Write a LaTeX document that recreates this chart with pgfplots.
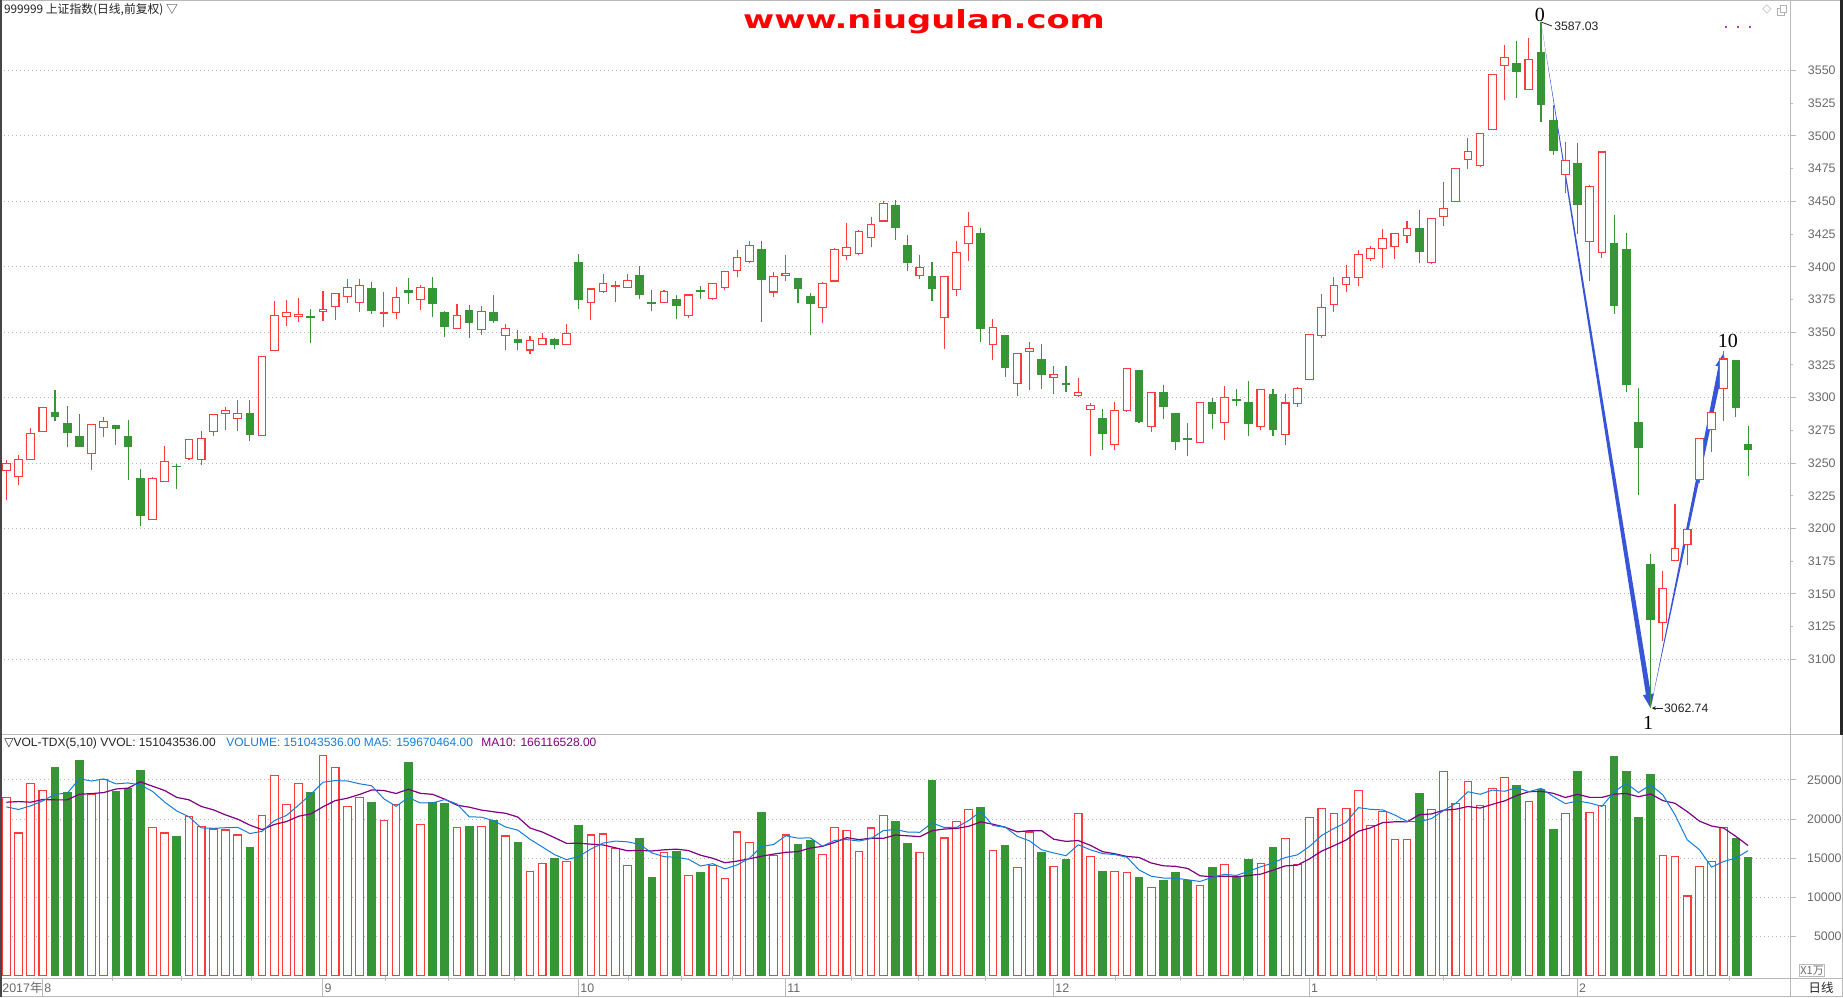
\documentclass[border=0pt]{standalone}
\usepackage{pgfplots}
\pgfplotsset{compat=1.18}
\usepackage{pgfplotstable}
\usepackage{graphicx}
\usepackage{fontspec}
\usetikzlibrary{arrows.meta}
\setmainfont{Liberation Sans}
\newfontfamily\cjk{Noto Sans CJK SC}
\newfontfamily\serif{Liberation Serif}
\newfontfamily\dejavu{DejaVu Sans}

\definecolor{cred}{RGB}{250,60,60}
\definecolor{cgreen}{RGB}{54,150,54}
\definecolor{cma5}{RGB}{20,125,215}
\definecolor{cma10}{RGB}{128,0,128}
\definecolor{cgrid}{RGB}{185,185,185}
\definecolor{cframe}{RGB}{185,185,185}
\definecolor{cleft}{RGB}{70,70,70}
\definecolor{clab}{RGB}{105,105,105}
\definecolor{ctxt}{RGB}{35,35,35}
\definecolor{carrow}{RGB}{55,85,215}
\definecolor{cdots}{RGB}{175,60,215}

% 1 px of the reference = 0.5pt
\def\yu{0.6543}% pt per index point
\def\bw{1.9pt}% half candle body

% rising days (red, hollow): x open high low close volume(10^4)
\pgfplotstableread{
x o h l c v
0 3244.2 3252.0 3221.7 3250.0 22800
1 3239.9 3256.3 3233.6 3253.0 18220
2 3253.0 3276.5 3252.0 3272.7 24580
3 3274.2 3292.4 3274.2 3292.4 23690
7 3257.6 3279.5 3244.4 3279.5 23090
8 3277.3 3285.1 3270.2 3281.8 25080
12 3206.8 3239.4 3206.8 3237.9 18980
13 3235.6 3262.9 3235.6 3251.5 18220
15 3253.5 3268.2 3252.0 3268.2 20300
16 3252.8 3274.5 3248.7 3268.9 19110
17 3274.2 3287.4 3271.0 3287.4 18730
18 3287.9 3292.7 3275.3 3290.2 18600
19 3284.1 3298.5 3274.7 3287.9 17970
21 3271.2 3332.0 3271.0 3331.5 20510
22 3336.1 3374.2 3336.1 3362.6 25590
23 3362.1 3374.5 3355.1 3365.2 21910
24 3362.1 3375.8 3358.1 3363.6 24580
26 3365.7 3381.3 3358.8 3367.4 28130
27 3369.7 3380.3 3359.6 3379.5 26650
28 3377.3 3390.4 3372.5 3384.1 21650
29 3372.7 3390.4 3365.7 3385.6 22800
31 3364.4 3380.6 3354.3 3365.2 19790
32 3365.2 3384.3 3360.4 3376.5 21820
34 3375.0 3386.4 3367.2 3384.1 19360
37 3353.0 3371.5 3353.0 3362.9 18980
39 3352.3 3369.7 3347.5 3365.9 19110
41 3347.7 3356.3 3336.1 3353.0 17840
43 3336.4 3347.0 3333.3 3343.9 13260
44 3340.9 3349.2 3340.9 3345.5 14280
46 3340.9 3356.3 3340.9 3349.2 14530
48 3373.0 3383.0 3359.0 3383.0 17970
49 3381.4 3394.7 3379.9 3387.5 18090
50 3385.2 3389.1 3372.8 3386.0 16230
51 3384.5 3394.7 3383.7 3389.8 14030
54 3373.0 3382.2 3372.3 3381.4 15680
56 3363.1 3378.4 3360.8 3378.4 12750
58 3376.1 3387.5 3374.6 3387.5 14030
59 3384.5 3396.7 3382.2 3396.7 12370
60 3397.5 3413.0 3392.1 3407.4 18350
61 3404.3 3419.6 3402.8 3416.5 16950
63 3380.7 3395.9 3376.8 3392.9 15300
64 3393.6 3409.2 3389.1 3395.2 17970
67 3369.2 3388.3 3356.7 3387.5 15420
68 3389.1 3414.5 3388.0 3413.5 18980
69 3408.9 3433.3 3404.8 3415.0 18520
70 3410.4 3428.0 3408.9 3427.2 15800
71 3422.6 3437.9 3414.8 3432.6 18860
72 3435.0 3450.0 3434.9 3448.2 20510
75 3393.3 3408.8 3390.8 3399.7 15680
77 3361.3 3392.8 3337.2 3392.8 17580
78 3382.7 3419.5 3377.8 3410.9 19660
79 3417.7 3441.6 3404.5 3430.7 21270
81 3340.7 3360.0 3329.0 3353.7 15930
83 3311.0 3333.9 3301.6 3333.9 13770
84 3335.4 3342.5 3306.2 3337.7 18350
86 3315.6 3324.2 3303.1 3317.9 13900
88 3301.8 3315.1 3300.6 3304.1 20760
89 3291.2 3295.7 3255.1 3294.2 15170
91 3264.5 3296.8 3259.7 3290.4 13260
92 3290.4 3322.4 3288.9 3322.4 13140
94 3278.2 3303.6 3274.1 3303.6 11230
98 3265.6 3296.2 3265.6 3296.2 11480
100 3280.9 3308.7 3267.9 3300.0 14150
103 3278.1 3306.1 3275.0 3306.1 14340
105 3271.7 3303.1 3264.1 3295.9 17530
106 3295.7 3308.2 3292.9 3306.9 14210
107 3314.0 3348.2 3314.0 3348.2 20210
108 3347.4 3379.5 3345.9 3368.8 21360
109 3371.1 3392.0 3365.5 3385.6 20720
110 3386.4 3401.7 3380.8 3391.8 21360
111 3391.8 3412.6 3385.4 3409.3 23660
112 3406.3 3416.2 3404.7 3413.9 19150
113 3413.9 3429.2 3399.1 3421.6 20980
114 3415.4 3426.1 3406.0 3425.4 17400
115 3423.9 3435.1 3418.2 3429.2 17400
117 3403.0 3436.9 3402.2 3436.9 21230
118 3438.4 3464.6 3431.2 3444.5 26080
119 3449.8 3475.8 3449.8 3475.1 22040
120 3482.0 3498.3 3474.8 3487.8 24810
121 3477.4 3502.3 3476.4 3501.8 21700
122 3504.9 3546.9 3504.9 3546.9 23910
123 3553.8 3569.4 3527.6 3559.9 25320
125 3535.5 3574.7 3535.5 3558.4 22250
128 3470.5 3495.0 3456.0 3481.2 20720
130 3419.0 3462.7 3389.3 3461.6 20850
131 3411.1 3487.7 3406.8 3487.7 21700
136 3128.0 3167.4 3113.7 3154.2 15360
137 3175.3 3218.6 3175.3 3184.6 15230
138 3187.8 3198.9 3172.1 3198.9 10170
139 3237.6 3268.7 3234.7 3268.7 13960
140 3275.8 3288.4 3258.7 3288.4 14600
141 3307.0 3335.6 3282.3 3329.5 18940
}\rising

% falling days (green, filled)
\pgfplotstableread{
x o h l c v
4 3288.9 3305.6 3282.3 3285.4 26650
5 3280.3 3293.4 3262.6 3273.2 23350
6 3269.9 3287.4 3261.9 3262.6 27540
9 3278.3 3278.3 3264.1 3276.3 23470
10 3269.9 3282.8 3236.9 3262.6 23940
11 3238.1 3245.7 3202.0 3209.6 26270
14 3247.7 3249.2 3230.1 3247.4 17750
20 3288.1 3298.0 3267.2 3271.7 16360
25 3361.6 3367.4 3341.4 3361.1 23350
30 3383.6 3388.1 3364.1 3366.4 22080
33 3382.1 3391.2 3371.7 3380.1 27290
35 3383.6 3391.9 3361.6 3371.7 22080
36 3365.4 3366.2 3346.0 3354.3 21950
38 3366.2 3370.7 3345.2 3357.3 19110
40 3365.4 3378.3 3357.3 3358.8 19870
42 3344.7 3351.8 3336.1 3342.4 16990
45 3344.2 3345.2 3336.9 3340.9 14960
47 3403.3 3410.1 3367.9 3374.7 19150
52 3393.1 3400.8 3375.1 3378.9 17500
53 3373.0 3382.4 3365.9 3372.3 12540
55 3374.8 3378.6 3359.8 3370.5 15850
57 3382.2 3385.5 3375.1 3381.4 13180
62 3413.5 3419.6 3357.5 3390.3 20800
65 3391.3 3391.3 3372.0 3383.5 16740
66 3377.6 3379.9 3347.6 3372.0 17250
73 3447.0 3450.8 3420.3 3430.2 19660
74 3416.5 3424.1 3396.6 3403.0 16860
76 3392.8 3403.5 3373.8 3383.2 24870
80 3425.6 3429.4 3342.8 3352.7 21440
82 3347.1 3347.1 3316.1 3322.9 16610
85 3328.8 3341.0 3306.9 3317.6 15720
87 3310.5 3324.2 3304.6 3310.0 14830
90 3283.8 3291.4 3259.7 3272.6 13300
93 3320.4 3320.4 3281.0 3281.8 12540
95 3303.6 3309.7 3283.3 3293.2 12160
96 3287.6 3287.6 3260.2 3266.5 13180
97 3268.6 3280.8 3255.1 3268.0 12080
99 3296.2 3300.0 3276.0 3288.3 13810
101 3298.2 3306.9 3293.9 3297.7 12470
102 3296.2 3312.5 3270.9 3280.6 14770
104 3302.3 3306.9 3270.9 3276.0 16300
116 3429.2 3443.2 3402.7 3411.4 23320
124 3555.4 3572.4 3529.1 3549.0 24340
126 3563.8 3587.03 3511.0 3523.8 23830
127 3512.0 3523.5 3485.8 3488.6 18720
129 3478.8 3494.9 3425.1 3447.3 26130
132 3417.9 3439.8 3364.2 3370.7 28040
133 3413.3 3425.5 3304.1 3309.8 26130
134 3281.2 3307.0 3225.7 3262.2 20250
135 3172.8 3180.6 3062.74 3130.2 25740
142 3328.5 3328.5 3285.5 3292.3 17450
143 3264.0 3278.0 3240.4 3260.4 15100
}\falling

% volume moving averages MA5, MA10 (10^4)
\pgfplotstableread{
x m5 m10
0 21570 22160
1 21230 22240
2 21690 22160
3 22330 22500
4 23188 22460
5 23298 22460
6 25162 23180
7 24864 23260
8 25142 23390
9 24506 23847
10 24624 23961
11 24370 24766
12 23548 24206
13 22176 23659
14 21032 22769
15 20304 22464
16 18872 21621
17 18822 21185
18 18898 20537
19 18942 19987
20 18154 19229
21 18434 18653
22 19806 19314
23 20468 19683
24 21790 20366
25 23188 20671
26 24712 21573
27 24924 22365
28 24872 22670
29 24516 23153
30 24262 23725
31 22594 23653
32 21628 23276
33 22756 23814
34 22068 23292
35 22068 23165
36 22500 22547
37 21932 21780
38 20296 21526
39 20246 21157
40 19804 20936
41 18982 20741
42 18584 20258
43 17414 18855
44 16448 18347
45 15466 17635
46 14804 16893
47 15236 16910
48 16178 16796
49 16940 16694
50 17194 16330
51 17094 15949
52 16764 16000
53 15678 15928
54 15196 16068
55 15120 16157
56 14864 15979
57 14000 15382
58 14298 14988
59 13636 14416
60 14136 14628
61 14976 14920
62 16500 15250
63 16754 15526
64 17874 15755
65 17552 15844
66 17612 16294
67 16536 16518
68 17272 17013
69 17382 17628
70 17194 17373
71 17516 17564
72 18534 17535
73 18670 17971
74 18338 17860
75 18314 17754
76 19516 18516
77 18930 18732
78 18930 18800
79 19812 19075
80 20964 19639
81 19176 19346
82 18982 18956
83 17804 18367
84 17220 18516
85 16076 18520
86 15670 17423
87 15314 17148
88 16712 17258
89 16076 16648
90 15592 15834
91 15464 15567
92 15126 15220
93 13482 15097
94 12694 14385
95 12466 14029
96 12450 13957
97 12238 13682
98 12026 12754
99 12542 12618
100 12940 12703
101 12798 12624
102 13336 12787
103 13908 12967
104 14406 13474
105 15082 14011
106 15430 14114
107 16518 14927
108 17922 15915
109 18806 16606
110 19572 17327
111 21462 18446
112 21250 18884
113 21174 19548
114 20510 19658
115 19718 19645
116 19650 20556
117 20066 20658
118 21086 21130
119 22014 21262
120 23496 21607
121 23172 21411
122 23708 21887
123 23556 22321
124 24016 23015
125 23504 23500
126 23930 23551
127 22892 23300
128 21972 22764
129 22330 23173
130 22050 22777
131 21624 22777
132 23488 23190
133 24570 23271
134 23394 22862
135 24372 23211
136 23104 22364
137 20542 22015
138 17350 20960
139 16092 19743
140 13864 19118
141 14580 18842
142 15024 17783
143 15967 16612
}\ma

\pgfplotsset{
  candle/.style 2 args={
    only marks, scatter, mark=*, mark size=0pt,
    mark options={draw=none, fill=none},
    point meta=y,
    visualization depends on={(\thisrow{h}-\thisrow{c})*\yu \as \dH},
    visualization depends on={(\thisrow{l}-\thisrow{c})*\yu \as \dL},
    visualization depends on={(\thisrow{o}-\thisrow{c})*\yu \as \dO},
    scatter/@pre marker code/.code={%
      \draw[#1, line width=0.55pt] (0pt,\dL pt) -- (0pt,\dH pt);%
      \draw[#1, fill=#2, line width=0.55pt] (-\bw,\dO pt) rectangle (\bw,0pt);%
      \scope},
    scatter/@post marker code/.code={\endscope},
  },
  panel/.style={
    axis line style={draw=none}, tick style={draw=none},
    xtick=\empty,
    ymajorgrids,
    grid style={cgrid, line width=0.5pt, dash pattern=on 0.5pt off 1.5pt},
    yticklabel pos=right,
    tick label style={font=\fontsize{6.2}{7}\selectfont, text=clab},
    /pgf/number format/assume math mode=true,
    /pgf/number format/1000 sep={},
    scaled y ticks=false,
    clip=false,
  },
}

\begin{document}
\begin{tikzpicture}
\useasboundingbox (0,0) rectangle (921.5pt,498.5pt);

% ---------- price panel ----------
\begin{axis}[panel,
  anchor=south west, at={(0pt,131pt)},
  x=6.09pt, y=0.6543pt,
  xmin=-0.517, xmax=146.44, ymin=3042.2, ymax=3603.9,
  ytick={3100,3150,...,3550},
  extra y ticks={3125,3175,...,3525},
  extra y tick style={grid=none},
  yticklabel style={anchor=east, inner sep=0pt, xshift=23pt},
]
\addplot[candle={cred}{white}] table[x=x, y=c] {\rising};
\addplot[candle={cgreen}{cgreen}] table[x=x, y=c] {\falling};

% short tick marks beside the price labels
\pgfplotsinvokeforeach{3100,3150,3200,3250,3300,3350,3400,3450,3500,3550}{
  \draw[cframe, line width=0.5pt] (axis cs:146.44,#1) -- ++(3pt,0pt);
}
\pgfplotsinvokeforeach{3125,3175,3225,3275,3325,3375,3425,3475,3525}{
  \draw[cframe, line width=0.5pt] (axis cs:146.44,#1) -- ++(1.6pt,0pt);
}

% wave arrows 0 -> 1 -> 10
\addplot[fill=carrow, draw=none] coordinates {(126,3587.03) (135.021,3073.61) (135.264,3073.97) (135,3062.74) (134.372,3072.65) (134.615,3073.01)} --cycle;
\addplot[fill=carrow, draw=none] coordinates {(135,3062.74) (140.969,3323.13) (141.210,3322.67) (141,3334) (140.326,3324.37) (140.567,3323.91)} --cycle;

\node[font=\serif\fontsize{10}{10}\selectfont, inner sep=0pt] at (axis cs:125.9,3592.8) {0};
\node[font=\serif\fontsize{10}{10}\selectfont, inner sep=0pt] at (axis cs:134.8,3051.4) {1};
\node[font=\serif\fontsize{10}{10}\selectfont, inner sep=0pt] at (axis cs:141.35,3343.3) {10};
\draw[ctxt, line width=0.4pt] (axis cs:126,3587.03) -- ++(5.5pt,-2pt);
\node[anchor=west, inner sep=0pt, xshift=6.5pt, yshift=-2.2pt, text=ctxt, font=\fontsize{6.1}{7}\selectfont] at (axis cs:126,3587.03) {3587.03};
\draw[ctxt, line width=0.4pt, {Stealth[length=2pt,width=2pt]}-] (axis cs:135,3062.74) ++(0.6pt,0pt) -- ++(5.5pt,0pt);
\node[anchor=west, inner sep=0pt, xshift=6.6pt, text=ctxt, font=\fontsize{6.1}{7}\selectfont] at (axis cs:135,3062.74) {3062.74};
\end{axis}

% ---------- volume panel ----------
\begin{axis}[panel,
  anchor=south west, at={(0pt,10.75pt)},
  scale only axis, width=895pt, height=120.25pt,
  xmin=-0.517, xmax=146.44, ymin=0, ymax=30754,
  ybar,
  ytick={5000,10000,15000,20000,25000},
  yticklabel style={anchor=east, inner sep=0pt, xshift=26pt},
]
\addplot[bar shift=0pt, bar width=3.8pt, draw=cred, fill=white, line width=0.55pt] table[x=x, y=v] {\rising};
\addplot[bar shift=0pt, bar width=3.8pt, draw=cgreen, fill=cgreen, line width=0.55pt] table[x=x, y=v] {\falling};
\addplot[sharp plot, no marks, cma10, line width=0.6pt] table[x=x, y=m10] {\ma};
\addplot[sharp plot, no marks, cma5, line width=0.5pt] table[x=x, y=m5] {\ma};

\pgfplotsinvokeforeach{5000,10000,15000,20000,25000}{
  \draw[cframe, line width=0.5pt] (axis cs:146.44,#1) -- ++(3pt,0pt);
}

% date strip
\pgfplotsinvokeforeach{8.7,14.4,20.1,31.1,36.3,41.7,51.1,55.4,59.6,69.4,74.9,80.4,91.1,96.4,101.6,112.5,118.0,123.6,141.5}{
  \draw[cframe, line width=0.5pt] (axis cs:#1,0) -- ++(0pt,-2.6pt);
}
\pgfplotsinvokeforeach{3,26,47,64,86,107,129}{
  \draw[cframe, line width=0.5pt] (axis cs:#1,0) ++(0pt,-1.25pt) -- ++(0pt,-9.5pt);
}
\node[anchor=base east, inner sep=0pt, yshift=-8.25pt, text=clab, font=\fontsize{6.2}{7}\selectfont] at (axis cs:3,0) {2017{\cjk 年}};
\node[anchor=base west, inner sep=0pt, xshift=0.6pt, yshift=-8.25pt, text=clab, font=\fontsize{6.2}{7}\selectfont] at (axis cs:3,0) {8};
\node[anchor=base west, inner sep=0pt, xshift=0.6pt, yshift=-8.25pt, text=clab, font=\fontsize{6.2}{7}\selectfont] at (axis cs:26,0) {9};
\node[anchor=base west, inner sep=0pt, xshift=0.6pt, yshift=-8.25pt, text=clab, font=\fontsize{6.2}{7}\selectfont] at (axis cs:47,0) {10};
\node[anchor=base west, inner sep=0pt, xshift=0.6pt, yshift=-8.25pt, text=clab, font=\fontsize{6.2}{7}\selectfont] at (axis cs:64,0) {11};
\node[anchor=base west, inner sep=0pt, xshift=0.6pt, yshift=-8.25pt, text=clab, font=\fontsize{6.2}{7}\selectfont] at (axis cs:86,0) {12};
\node[anchor=base west, inner sep=0pt, xshift=0.6pt, yshift=-8.25pt, text=clab, font=\fontsize{6.2}{7}\selectfont] at (axis cs:107,0) {1};
\node[anchor=base west, inner sep=0pt, xshift=0.6pt, yshift=-8.25pt, text=clab, font=\fontsize{6.2}{7}\selectfont] at (axis cs:129,0) {2};
\end{axis}

% ---------- frame and texts ----------
\draw[cframe, line width=0.5pt] (0,498.25pt) -- (921.5pt,498.25pt);
\draw[cframe, line width=0.5pt] (0,131pt) -- (921.5pt,131pt);
\draw[cframe, line width=0.5pt] (0,9.5pt) -- (921.5pt,9.5pt);
\draw[cframe, line width=0.5pt] (0,0.25pt) -- (921.5pt,0.25pt);
\draw[cframe, line width=0.5pt] (895pt,0) -- (895pt,498.5pt);
\draw[cframe, line width=0.5pt] (921.25pt,0) -- (921.25pt,131pt);
\draw[black!85, line width=1.5pt] (920.75pt,131pt) -- (920.75pt,498.5pt);
\draw[cleft, line width=0.8pt] (0.4pt,0) -- (0.4pt,498.5pt);

\node[anchor=base west, inner sep=0pt, text=ctxt, font=\cjk\fontsize{5.9}{7}\selectfont] at (1.8pt,491.6pt) {999999 上证指数(日线,前复权) ▽};
\node[anchor=base, inner sep=0pt, text=red] at (462pt,484.3pt) {\scalebox{1.35}[1]{\dejavu\bfseries\fontsize{12.5}{13}\selectfont www.niugulan.com}};

\fill[cdots] (862.5pt,484.6pt) rectangle ++(1pt,1pt);
\fill[cdots] (868.5pt,484.6pt) rectangle ++(1pt,1pt);
\fill[cdots] (874.5pt,484.6pt) rectangle ++(1pt,1pt);
\node[inner sep=0pt, text=gray!60, font=\dejavu\fontsize{6}{6}\selectfont] at (883.5pt,493.6pt) {◇};
\draw[gray!60, line width=0.4pt, fill=white] (888.6pt,490.8pt) rectangle ++(3.4pt,3.4pt);
\draw[gray!60, line width=0.4pt, fill=white] (890pt,492.3pt) rectangle ++(3.4pt,3.4pt);

\node[anchor=base west, inner sep=0pt, font=\fontsize{6}{7}\selectfont, text=ctxt] at (2pt,125pt) {{\dejavu ▽}VOL-TDX(5,10) VVOL: 151043536.00};
\node[anchor=base west, inner sep=0pt, font=\fontsize{6}{7}\selectfont, text=cma5] at (113pt,125pt) {VOLUME: 151043536.00 MA5: 159670464.00};
\node[anchor=base west, inner sep=0pt, font=\fontsize{6}{7}\selectfont, text=cma10] at (240.5pt,125pt) {MA10: 166116528.00};

\node[anchor=south west, draw=cframe, line width=0.4pt, inner sep=0.5pt, text=clab, font=\cjk\fontsize{5.5}{6}\selectfont] at (899.5pt,10.2pt) {X1万};
\node[inner sep=0pt, text=ctxt, font=\cjk\fontsize{6.2}{7}\selectfont] at (910.5pt,4.6pt) {日线};
\end{tikzpicture}
\end{document}
